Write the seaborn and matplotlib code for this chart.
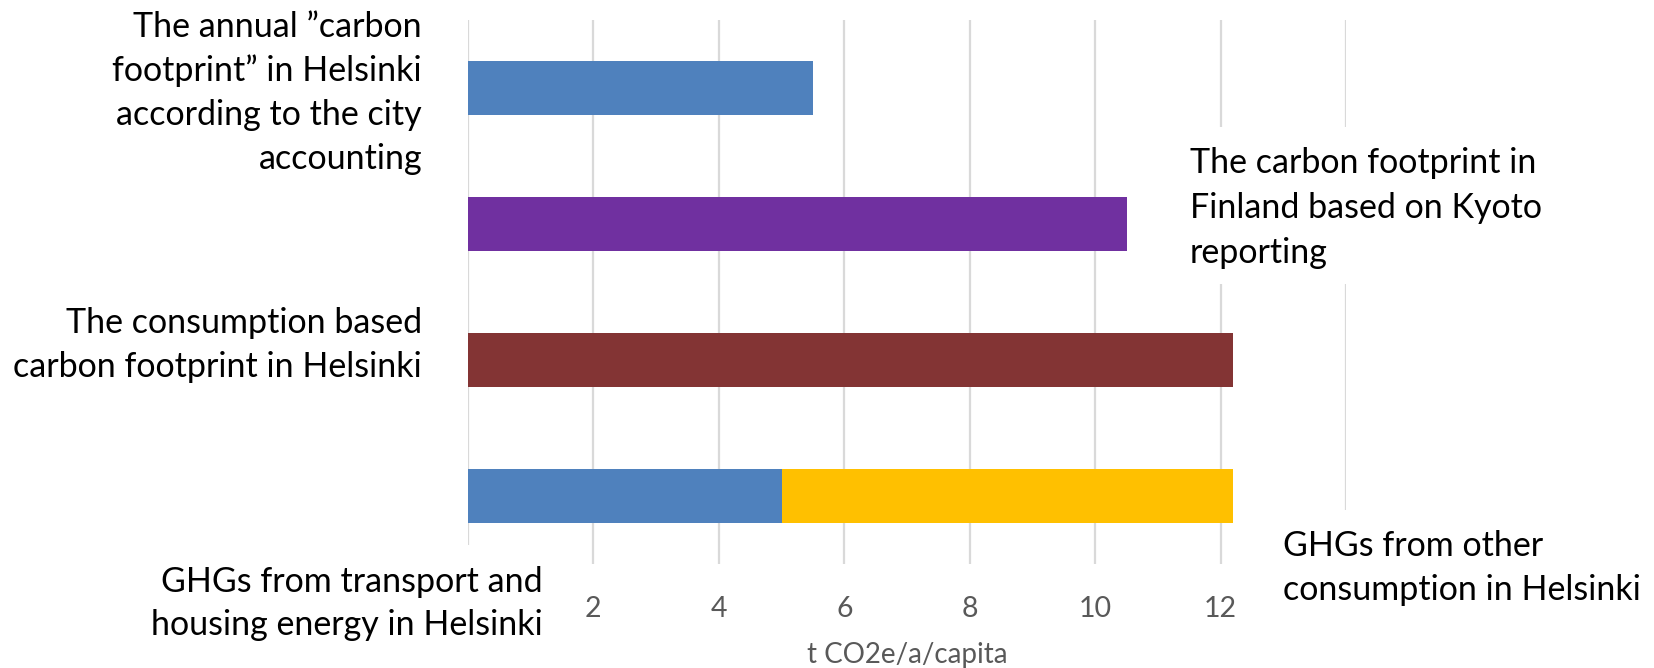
import matplotlib
matplotlib.use("Agg")
import matplotlib.pyplot as plt
from matplotlib.patches import Rectangle
import seaborn as sns
import pandas as pd

# --- data -------------------------------------------------------------
categories = ["city accounting", "Kyoto reporting", "consumption based", "consumption split"]
main_values = [5.5, 10.5, 12.2, 5.0]          # first (or only) segment of each bar
other_values = [0.0, 0.0, 0.0, 7.2]           # stacked segment: other consumption
main_colors = ["#4F81BD", "#7030A0", "#833434", "#4F81BD"]
other_color = "#FFC000"
x_ticks = [0, 2, 4, 6, 8, 10, 12, 14]
x_tick_labels = ["", "2", "4", "6", "8", "10", "12", ""]
x_label = "t CO2e/a/capita"

label_city = ["The annual \u201dcarbon", "footprint\u201d in Helsinki", "according to the city", "accounting"]
label_kyoto = ["The carbon footprint in", "Finland based on Kyoto", "reporting"]
label_consumption = ["The consumption based", "carbon footprint in Helsinki"]
label_transport = ["GHGs from transport and", "housing energy in Helsinki"]
label_other = ["GHGs from other", "consumption in Helsinki"]

# --- figure -----------------------------------------------------------
W, H = 1654, 668
sns.set_theme(style="white")
plt.rcParams["font.family"] = ["Lato", "DejaVu Sans"]

fig = plt.figure(figsize=(W / 100, H / 100), dpi=100)
fig.patch.set_facecolor("white")


def fx(px):
    return px / W


def fy(py):
    return 1 - py / H


ax = fig.add_axes([fx(468), fy(564), fx(1346) - fx(468), fy(20) - fy(564)])

df = pd.DataFrame({
    "category": categories,
    "main": main_values,
    "other": other_values,
})
df["total"] = df["main"] + df["other"]

# full length first (yellow for the stacked row), then the first segment on top
total_colors = [other_color if o > 0 else c for c, o in zip(main_colors, other_values)]
sns.barplot(data=df, y="category", x="total", hue="category", palette=total_colors,
            order=categories, width=0.4, saturation=1, linewidth=0, legend=False, ax=ax)
sns.barplot(data=df, y="category", x="main", hue="category", palette=main_colors,
            order=categories, width=0.4, saturation=1, linewidth=0, legend=False, ax=ax)

ax.set_xlim(x_ticks[0], x_ticks[-1])
ax.set_xticks(x_ticks)
ax.set_xticklabels(x_tick_labels)
ax.set_yticks([])
ax.set_ylabel("")
ax.set_xlabel(x_label, fontsize=20, color="#595959")
ax.xaxis.set_label_coords(0.5, -0.143)
ax.grid(axis="x", color="#d9d9d9", linewidth=1.6)
ax.grid(axis="y", visible=False)
ax.set_axisbelow(True)
for s in ax.spines.values():
    s.set_visible(False)
ax.tick_params(axis="x", length=0, labelsize=20.5, labelcolor="#595959", pad=23)

# white text-box backgrounds
for (x0, y0, x1, y1) in [(1185, 127, W, 284), (120, 545, 552, H), (1270, 510, W, 650)]:
    fig.add_artist(Rectangle((fx(x0), fy(y1)), fx(x1) - fx(x0), fy(y0) - fy(y1),
                             transform=fig.transFigure, facecolor="white",
                             edgecolor="none", zorder=2))


def block(lines, x, baselines, ha):
    for line, b in zip(lines, baselines):
        fig.text(fx(x), fy(b), line, ha=ha, va="baseline", fontsize=24.5,
                 color="black", zorder=3)


block(label_city, 422, [37, 81, 125, 169], "right")
block(label_kyoto, 1190, [173, 218, 263], "left")
block(label_consumption, 422, [333, 377], "right")
block(label_transport, 543, [592, 635], "right")
block(label_other, 1283, [556, 600], "left")

fig.savefig("out.png", dpi=100, facecolor="white")
